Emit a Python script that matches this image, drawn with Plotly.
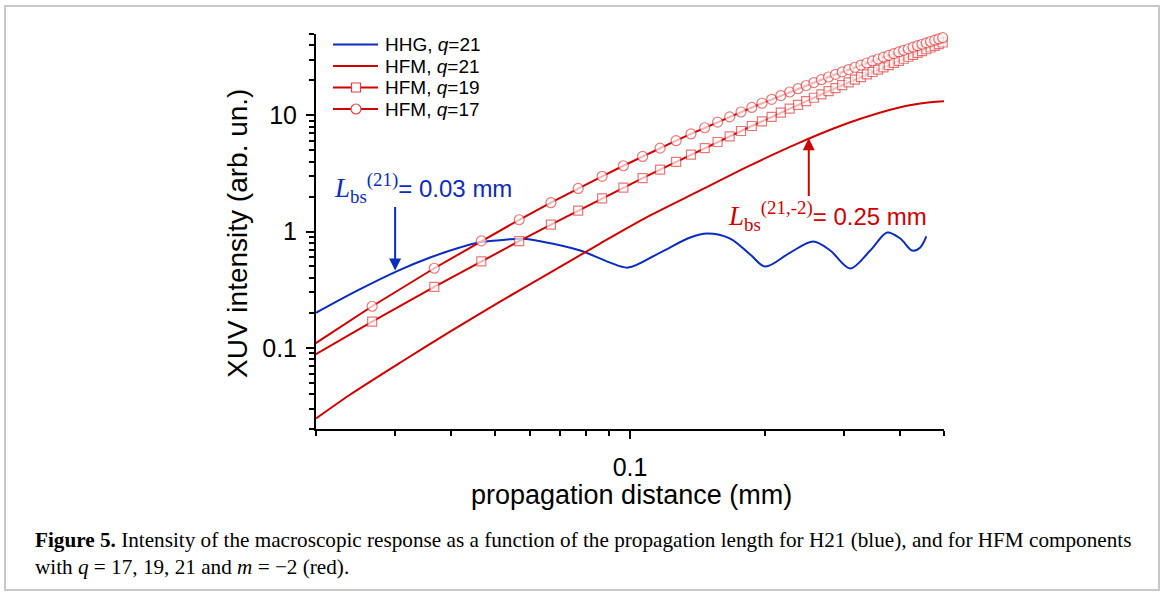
import numpy as np
import plotly.graph_objects as go

# ---------------- data ----------------
hhg_x = [0.02, 0.0247, 0.0305, 0.0359, 0.0418, 0.0464, 0.0533, 0.0578, 0.0631,
         0.0775, 0.0903, 0.0991, 0.1167, 0.1361, 0.1485, 0.1671, 0.1852, 0.2,
         0.2273, 0.2558, 0.2791, 0.3092, 0.3426, 0.3738, 0.3996, 0.425, 0.4428, 0.4567]
hhg_y = [0.200, 0.310, 0.461, 0.597, 0.728, 0.809, 0.853, 0.865, 0.825,
         0.686, 0.540, 0.489, 0.659, 0.888, 0.961, 0.870, 0.634, 0.499,
         0.659, 0.820, 0.686, 0.480, 0.686, 0.980, 0.870, 0.686, 0.73, 0.906]

hfm21_x = [0.02, 0.0238, 0.03077, 0.03976, 0.05138, 0.06641, 0.08579, 0.1109,
           0.1433, 0.1852, 0.2393, 0.3092, 0.3996, 0.4661, 0.5]
hfm21_y = [0.0246, 0.0394, 0.0743, 0.1374, 0.2494, 0.443, 0.788, 1.374,
           2.257, 3.707, 5.85, 8.70, 11.72, 12.94, 13.2]

hfm_grid_x = [0.01667, 0.02667, 0.03667, 0.04667, 0.05667, 0.06667, 0.07667, 0.08667,
              0.09667, 0.10667, 0.11667, 0.12667, 0.13667, 0.14667, 0.15667, 0.16667,
              0.17667, 0.18667, 0.19667, 0.20667, 0.21667, 0.22667, 0.23667, 0.24667,
              0.25667, 0.26667, 0.27667, 0.28667, 0.29667, 0.30667, 0.31667, 0.32667,
              0.33667, 0.34667, 0.35667, 0.36667, 0.37667, 0.38667, 0.39667, 0.40667,
              0.41667, 0.42667, 0.43667, 0.44667, 0.45667, 0.46667, 0.47667, 0.48667,
              0.49667]
hfm19_y = [0.0587, 0.168, 0.334, 0.554, 0.826, 1.147, 1.514, 1.926, 2.381, 2.873,
           3.408, 3.977, 4.581, 5.218, 5.886, 6.591, 7.321, 8.082, 8.873, 9.687,
           10.53, 11.40, 12.30, 13.21, 14.15, 15.11, 16.10, 17.10, 18.13, 19.17,
           20.24, 21.32, 22.43, 23.55, 24.69, 25.85, 27.01, 28.20, 29.41, 30.63,
           31.87, 33.11, 34.37, 35.66, 36.95, 38.26, 39.58, 40.91, 42.26]
hfm17_y = [0.0693, 0.2275, 0.483, 0.830, 1.262, 1.770, 2.346, 2.985, 3.679, 4.423,
           5.213, 6.04, 6.909, 7.806, 8.730, 9.687, 10.67, 11.67, 12.69, 13.72,
           14.78, 15.85, 16.92, 18.02, 19.11, 20.22, 21.34, 22.46, 23.60, 24.73,
           25.87, 27.02, 28.16, 29.31, 30.46, 31.60, 32.75, 33.90, 35.06, 36.20,
           37.35, 38.50, 39.64, 40.81, 41.94, 43.09, 44.22, 45.35, 46.49]

series_names = ["HHG, <i>q</i>=21", "HFM, <i>q</i>=21", "HFM, <i>q</i>=19", "HFM, <i>q</i>=17"]

x_range = [0.02, 0.5]
y_range = [0.02, 50]

lbs_hhg = 0.03          # mm
lbs_hfm = 0.25          # mm
arrow_hhg_y = [1.67, 0.461]   # tail, tip
arrow_hfm_y = [1.96, 6.33]

caption_1 = ("<b>Figure 5.</b> Intensity of the macroscopic response as a function of the "
             "propagation length for H21 (blue), and for HFM components")
caption_2 = "with <i>q</i> = 17, 19, 21 and <i>m</i> = −2 (red)."

# ---------------- style ----------------
BLUE = "#0a2cc0"
RED = "#d00000"
RED_M = "#e04040"
SANS = "Liberation Sans, Arial, sans-serif"
SERIF = "Liberation Serif, Times New Roman, serif"

L, R, T, B = 316, 221, 34, 167
W, H = 1165, 596
PW, PH = W - L - R, H - T - B


def px(xp):
    return (xp - L) / PW


def py(yp):
    return (H - B - yp) / PH


fig = go.Figure()

fig.add_trace(go.Scatter(
    x=hhg_x, y=hhg_y, mode="lines", name=series_names[0],
    line=dict(color=BLUE, width=2, shape="spline", smoothing=0.9)))
fig.add_trace(go.Scatter(
    x=hfm21_x, y=hfm21_y, mode="lines", name=series_names[1],
    line=dict(color=RED, width=2, shape="spline", smoothing=0.8)))

msize = [0] + [9] * (len(hfm_grid_x) - 1)
fig.add_trace(go.Scatter(
    x=hfm_grid_x, y=hfm19_y, mode="lines+markers", name=series_names[2],
    line=dict(color=RED, width=2),
    marker=dict(symbol="square", size=msize, color="white",
                line=dict(color=RED_M, width=1.2)),
    cliponaxis=False))
fig.add_trace(go.Scatter(
    x=hfm_grid_x, y=hfm17_y, mode="lines+markers", name=series_names[3],
    line=dict(color=RED, width=2),
    marker=dict(symbol="circle", size=[s + 1 if s else 0 for s in msize], color="white",
                line=dict(color=RED_M, width=1.2)),
    cliponaxis=False))

axis_common = dict(
    type="log", showgrid=False, zeroline=False, showline=True,
    linecolor="black", linewidth=2, mirror=False,
    ticks="outside", ticklen=8, tickwidth=2, tickcolor="black",
    dtick=1, tick0=0,
    tickfont=dict(family=SANS, size=25, color="black"),
    minor=dict(ticks="outside", ticklen=5, tickwidth=2, tickcolor="black",
               dtick="D1", showgrid=False),
)
fig.update_xaxes(range=[np.log10(x_range[0]), np.log10(x_range[1])],
                 ticklabelstandoff=7, **axis_common)
fig.update_yaxes(range=[np.log10(y_range[0]), np.log10(y_range[1])],
                 ticklabelstandoff=4, **axis_common)

ann = []
shapes = []
# axis titles
ann.append(dict(text="propagation distance (mm)", xref="paper", yref="paper",
                x=px(631), y=py(495), xanchor="center", yanchor="middle",
                showarrow=False, font=dict(family=SANS, size=27, color="black")))
ann.append(dict(text="XUV intensity (arb. un.)", xref="paper", yref="paper",
                x=px(237), y=py(234), xanchor="center", yanchor="middle", textangle=-90,
                showarrow=False, font=dict(family=SANS, size=28, color="black")))
# labels
ann.append(dict(
    text=("<span style=\"font-family:Liberation Serif;font-size:27px\"><i>L</i><sub>bs</sub>"
          "<sup>(21)</sup></span>= 0.03 mm"),
    xref="paper", yref="paper", x=px(332), y=py(188), xanchor="left", yanchor="middle",
    showarrow=False, font=dict(family=SANS, size=24, color=BLUE)))
ann.append(dict(
    text=("<span style=\"font-family:Liberation Serif;font-size:27px\"><i>L</i><sub>bs</sub>"
          "<sup>(21,-2)</sup></span>= 0.25 mm"),
    xref="paper", yref="paper", x=px(726), y=py(216), xanchor="left", yanchor="middle",
    showarrow=False, font=dict(family=SANS, size=24, color=RED)))
# arrows
ann.append(dict(x=np.log10(lbs_hhg), y=np.log10(arrow_hhg_y[1]), xref="x", yref="y",
                ax=np.log10(lbs_hhg), ay=np.log10(arrow_hhg_y[0]), axref="x", ayref="y",
                text="", showarrow=True, arrowhead=2, arrowsize=1.2, arrowwidth=2,
                arrowcolor=BLUE, standoff=0))
ann.append(dict(x=np.log10(lbs_hfm), y=np.log10(arrow_hfm_y[1]), xref="x", yref="y",
                ax=np.log10(lbs_hfm), ay=np.log10(arrow_hfm_y[0]), axref="x", ayref="y",
                text="", showarrow=True, arrowhead=2, arrowsize=1.2, arrowwidth=2,
                arrowcolor=RED, standoff=0))
# caption
ann.append(dict(text=caption_1, xref="paper", yref="paper", x=px(33), y=py(540),
                xanchor="left", yanchor="middle", showarrow=False, align="left",
                font=dict(family=SERIF, size=21.2, color="black")))
ann.append(dict(text=caption_2, xref="paper", yref="paper", x=px(33), y=py(567),
                xanchor="left", yanchor="middle", showarrow=False, align="left",
                font=dict(family=SERIF, size=21.2, color="black")))

# legend (drawn by hand to match the compact row spacing)
leg_rows = [44.5, 66, 87.5, 109]
leg_colors = [BLUE, RED, RED, RED]
leg_markers = [None, None, "square", "circle"]
for name, yrow, col, mk in zip(series_names, leg_rows, leg_colors, leg_markers):
    shapes.append(dict(type="line", xref="paper", yref="paper",
                       x0=px(333), x1=px(378), y0=py(yrow), y1=py(yrow),
                       line=dict(color=col, width=2)))
    if mk == "square":
        shapes.append(dict(type="rect", xref="paper", yref="paper",
                           x0=px(351.5), x1=px(360.5), y0=py(yrow + 4.5), y1=py(yrow - 4.5),
                           line=dict(color=RED_M, width=1.2), fillcolor="white"))
    elif mk == "circle":
        shapes.append(dict(type="circle", xref="paper", yref="paper",
                           x0=px(351), x1=px(361), y0=py(yrow + 5), y1=py(yrow - 5),
                           line=dict(color=RED_M, width=1.2), fillcolor="white"))
    ann.append(dict(text=name, xref="paper", yref="paper", x=px(383), y=py(yrow),
                    xanchor="left", yanchor="middle", showarrow=False,
                    font=dict(family=SANS, size=19, color="black")))

# light grey frame around the whole figure
shapes.append(dict(type="rect", xref="paper", yref="paper",
                   x0=px(5), x1=px(1159), y0=py(590), y1=py(6),
                   line=dict(color="#c8c8c8", width=2), fillcolor="rgba(0,0,0,0)",
                   layer="below"))

fig.update_layout(
    width=W, height=H, margin=dict(l=L, r=R, t=T, b=B, autoexpand=False),
    paper_bgcolor="white", plot_bgcolor="white",
    showlegend=False,
    annotations=ann,
    shapes=shapes,
)

fig.write_html("out.html", config={"displayModeBar": False},
               post_script="document.body.style.margin='0';document.body.style.overflow='hidden';")
